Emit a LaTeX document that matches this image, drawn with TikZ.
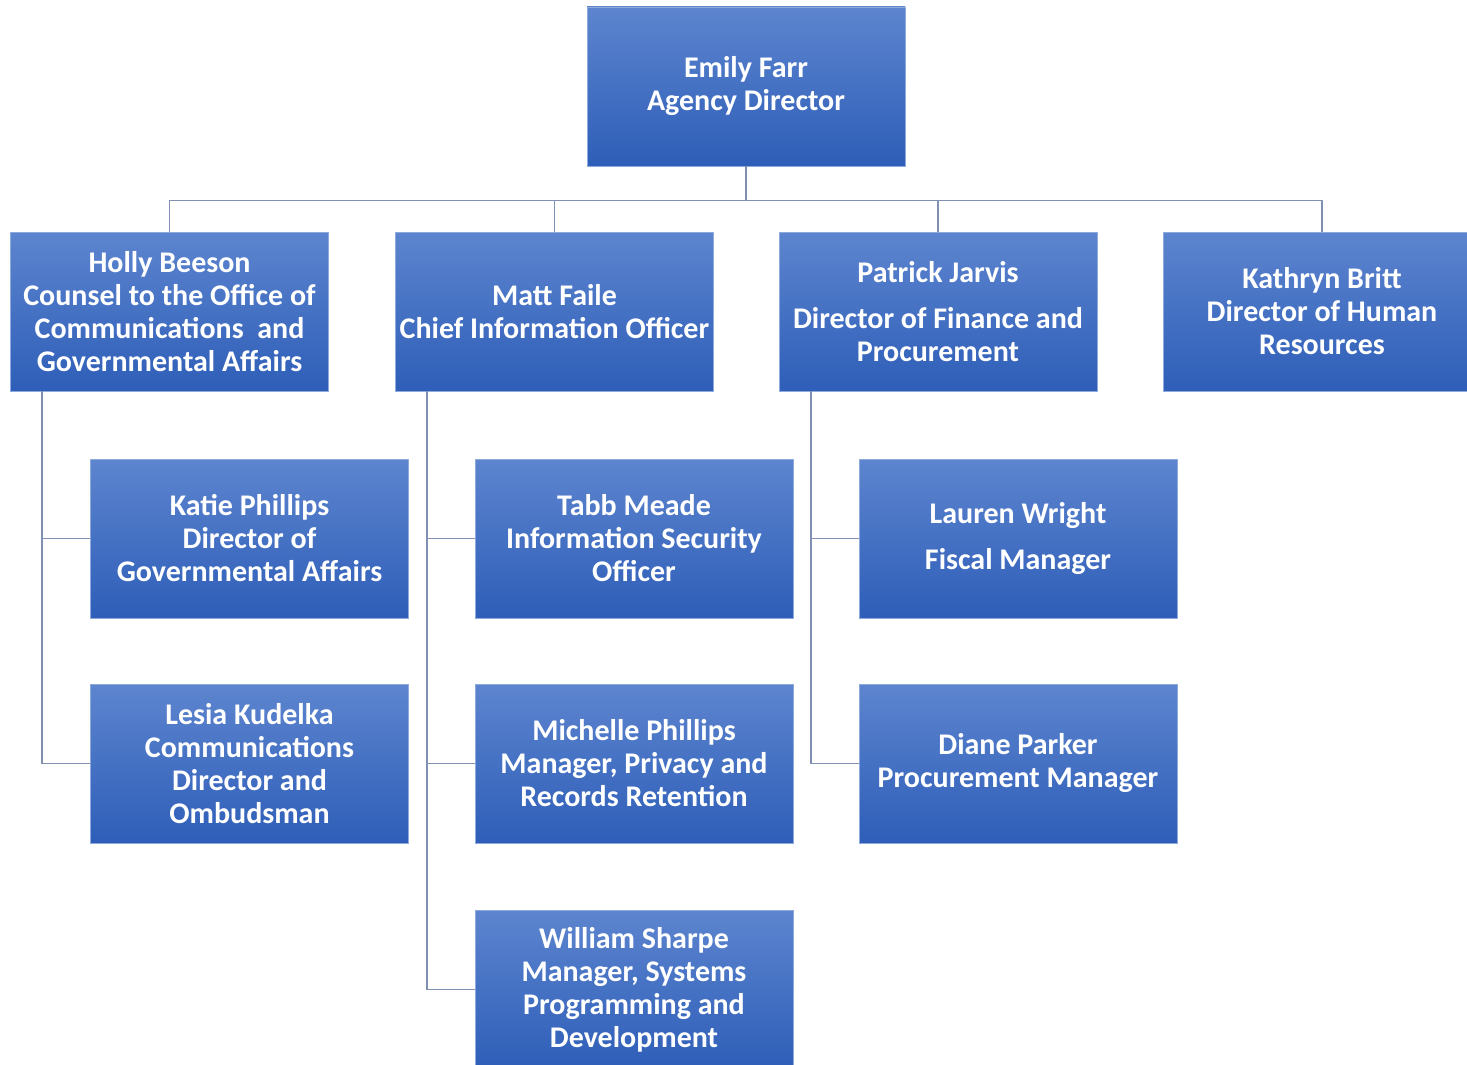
\documentclass[tikz,border=0pt]{standalone}
\usepackage{fontspec}
\setmainfont{Carlito}
\usepackage{xcolor}
\usetikzlibrary{positioning}

\definecolor{boxtop}{HTML}{5D85CF}
\definecolor{boxbottom}{HTML}{2E5EB8}
\definecolor{linkgray}{HTML}{7F90B2}

\tikzset{
  staff/.style={rectangle, minimum width=318pt, minimum height=159pt, inner sep=0pt,
    top color=boxtop, bottom color=boxbottom, draw=boxtop!70!white, line width=0.6pt,
    text=white, align=center, font=\bfseries\fontsize{30}{33}\selectfont},
  link/.style={draw=linkgray, line width=1.6pt}
}

\begin{document}
\begin{tikzpicture}[x=1pt, y=-1pt]
    \useasboundingbox (0,0) rectangle (1467,1065);

    % Top
    \node[staff] (agency) at (746,86.5) {Emily Farr\\Agency Director};

    % Second row
    \node[staff] (holly) at (169.5,311.5) {Holly Beeson\\Counsel to the Office of\\Communications\ \ and\\Governmental Affairs};
    \node[staff] (matt) at (554.5,311.5) {Matt Faile\\Chief Information Officer};
    \node[staff] (patrick) at (938,311.5) {Patrick Jarvis\\[13pt]Director of Finance and\\Procurement};
    \node[staff] (kathryn) at (1322,311.5) {Kathryn Britt\\Director of Human\\Resources};

    % Under Holly
    \node[staff] (katie) at (249.5,538.5) {Katie Phillips\\Director of\\Governmental Affairs};
    \node[staff] (lesia) at (249.5,763.5) {Lesia Kudelka\\Communications\\Director and\\Ombudsman};

    % Under Matt
    \node[staff] (tabb) at (634,538.5) {Tabb Meade\\Information Security\\Officer};
    \node[staff] (michelle) at (634,763.5) {Michelle Phillips\\Manager, Privacy and\\Records Retention};
    \node[staff] (william) at (634,989.5) {William Sharpe\\Manager, Systems\\Programming and\\Development};

    % Under Patrick
    \node[staff] (lauren) at (1018,538.5) {Lauren Wright\\[13pt]Fiscal Manager};
    \node[staff] (diane) at (1018,763.5) {Diane Parker\\Procurement Manager};

    % Links from the director
    \foreach \n in {holly, matt, patrick, kathryn}
        \draw[link] (agency.south) -- ++(0,34) -| (\n.north);

    % Links to the staff below
    \foreach \n in {katie, lesia}
        \draw[link] ([xshift=32pt]holly.south west) |- (\n.west);
    \foreach \n in {tabb, michelle, william}
        \draw[link] ([xshift=32pt]matt.south west) |- (\n.west);
    \foreach \n in {lauren, diane}
        \draw[link] ([xshift=32pt]patrick.south west) |- (\n.west);
\end{tikzpicture}
\end{document}
